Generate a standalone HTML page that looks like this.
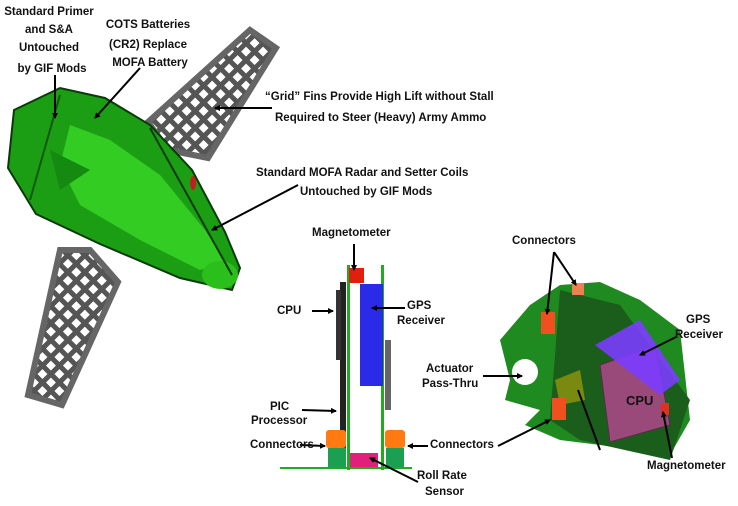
<!DOCTYPE html>
<html><head><style>
body{margin:0;background:#fff;}
svg text{font-family:"Liberation Sans",Arial,sans-serif;font-weight:bold;font-size:11.5px;fill:#111;}
</style></head><body>
<svg width="738" height="501" viewBox="0 0 738 501">
<defs>
<pattern id="grid" width="12" height="12" patternUnits="userSpaceOnUse" patternTransform="rotate(45)">
<rect width="12" height="12" fill="#555"/><rect x="3" y="3" width="7" height="7" fill="#fff"/>
</pattern>
<marker id="ah" markerWidth="6" markerHeight="6" refX="5" refY="3" orient="auto" markerUnits="userSpaceOnUse"><path d="M0,0 L6,3 L0,6z" fill="#000"/></marker>
</defs>
<!-- fins -->
<polygon points="148,122 250,30 276,48 208,158 168,150" fill="url(#grid)" stroke="#666" stroke-width="6"/>
<polygon points="28,395 62,405 118,282 90,250 60,250" fill="url(#grid)" stroke="#666" stroke-width="6"/>
<!-- missile body -->
<polygon points="14,110 60,88 105,98 150,125 192,170 225,232 240,268 232,290 180,278 100,244 36,214 8,168" fill="#1c9e14" stroke="#0a3a08" stroke-width="2"/>
<polygon points="70,125 110,140 160,175 205,230 225,262 200,270 140,240 80,205 60,165" fill="#33cc22"/>
<polygon points="50,150 90,170 60,190" fill="#148a10"/>
<ellipse cx="220" cy="275" rx="18" ry="14" fill="#2bbf1c"/>
<line x1="60" y1="95" x2="30" y2="200" stroke="#0d5a0a" stroke-width="2"/>
<line x1="150" y1="128" x2="232" y2="275" stroke="#0a3a08" stroke-width="2"/>
<ellipse cx="193" cy="183" rx="3" ry="7" fill="#c02020"/>
<!-- left board -->
<rect x="340" y="282" width="6" height="180" fill="#222"/>
<rect x="336" y="290" width="5" height="70" fill="#333"/>
<rect x="347" y="265" width="3" height="205" fill="#22aa22"/>
<rect x="381" y="265" width="3" height="205" fill="#22aa22"/>
<rect x="349" y="268" width="15" height="15" fill="#e0200c"/>
<rect x="360" y="284" width="23" height="102" fill="#2a2ae8"/>
<rect x="385" y="340" width="6" height="70" fill="#666"/>
<rect x="326" y="430" width="20" height="18" fill="#ff7a10" rx="3"/>
<rect x="385" y="430" width="20" height="18" fill="#ff7a10" rx="3"/>
<rect x="328" y="448" width="18" height="20" fill="#1aa050"/>
<rect x="386" y="448" width="18" height="20" fill="#1aa050"/>
<rect x="350" y="453" width="28" height="14" fill="#e0207a"/>
<line x1="280" y1="468" x2="412" y2="468" stroke="#22aa22" stroke-width="2"/>
<!-- right board -->
<polygon points="500,340 530,305 560,285 600,282 640,300 680,330 690,420 670,455 600,445 560,440 525,425 540,410 505,400 510,380" fill="#1f8a1f"/>
<circle cx="525" cy="372" r="13" fill="#fff"/>
<polygon points="560,290 620,305 690,400 670,460 580,440 550,420" fill="#1b5e1b"/>
<polygon points="600,365 655,345 670,425 610,442" fill="#9a4a7a" stroke="#5a2a4a"/>
<polygon points="595,345 640,320 680,380 660,395" fill="#7b3cff" opacity="0.9"/>
<polygon points="555,380 580,370 585,400 560,405" fill="#7a8a10"/>
<rect x="541" y="312" width="14" height="22" fill="#f05020"/>
<rect x="552" y="398" width="14" height="22" fill="#f05020"/>
<rect x="572" y="283" width="12" height="12" fill="#f08050"/>
<rect x="661" y="403" width="8" height="12" fill="#e03020"/>
<!-- connectors -->
<g stroke="#000" stroke-width="2" marker-end="url(#ah)">
<line x1="55" y1="75" x2="55" y2="118"/>
<line x1="140" y1="68" x2="95" y2="118"/>
<line x1="272" y1="108" x2="215" y2="108"/>
<line x1="298" y1="185" x2="212" y2="230"/>
<line x1="354" y1="244" x2="354" y2="270"/>
<line x1="312" y1="311" x2="333" y2="311"/>
<line x1="405" y1="308" x2="372" y2="308"/>
<line x1="302" y1="410" x2="336" y2="411"/>
<line x1="300" y1="445" x2="325" y2="446"/>
<line x1="428" y1="446" x2="408" y2="446"/>
<line x1="418" y1="482" x2="370" y2="458"/>
<line x1="554" y1="252" x2="547" y2="314"/>
<line x1="554" y1="252" x2="576" y2="285"/>
<line x1="676" y1="337" x2="640" y2="355"/>
<line x1="483" y1="376" x2="522" y2="376"/>
<line x1="498" y1="446" x2="550" y2="420"/>
<line x1="672" y1="458" x2="663" y2="412"/>
</g>
<line x1="578" y1="390" x2="600" y2="450" stroke="#000" stroke-width="2"/>
<!-- labels -->
<text x="49" y="15" text-anchor="middle">Standard Primer</text>
<text x="49" y="33" text-anchor="middle">and S&amp;A</text>
<text x="49" y="51" text-anchor="middle">Untouched</text>
<text x="52" y="72" text-anchor="middle">by GIF Mods</text>
<text x="148" y="28" text-anchor="middle">COTS Batteries</text>
<text x="148" y="48" text-anchor="middle">(CR2) Replace</text>
<text x="150" y="66" text-anchor="middle">MOFA Battery</text>
<text x="265" y="100">“Grid” Fins Provide High Lift without Stall</text>
<text x="275" y="121">Required to Steer (Heavy) Army Ammo</text>
<text x="256" y="176">Standard MOFA Radar and Setter Coils</text>
<text x="300" y="195">Untouched by GIF Mods</text>
<text x="312" y="236">Magnetometer</text>
<text x="277" y="314">CPU</text>
<text x="407" y="309">GPS</text>
<text x="397" y="324">Receiver</text>
<text x="270" y="410">PIC</text>
<text x="251" y="424">Processor</text>
<text x="250" y="448">Connectors</text>
<text x="430" y="448">Connectors</text>
<text x="417" y="479">Roll Rate</text>
<text x="425" y="495">Sensor</text>
<text x="626" y="405" style="font-size:13px">CPU</text>
<text x="512" y="244">Connectors</text>
<text x="686" y="323">GPS</text>
<text x="675" y="338">Receiver</text>
<text x="426" y="372">Actuator</text>
<text x="422" y="387">Pass-Thru</text>
<text x="647" y="469">Magnetometer</text>
</svg>
</body></html>
